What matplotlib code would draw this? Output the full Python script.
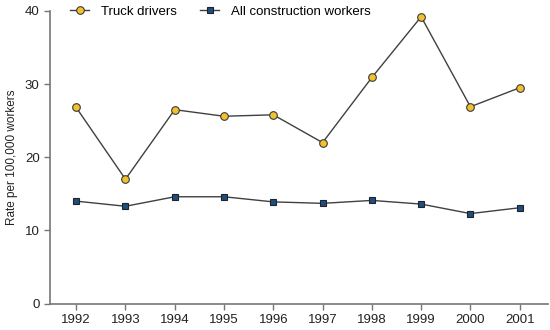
import matplotlib.pyplot as plt

years = [1992, 1993, 1994, 1995, 1996, 1997, 1998, 1999, 2000, 2001]
truck_drivers = [26.8, 17.0, 26.5, 25.6, 25.8, 22.0, 30.9, 39.2, 26.9, 29.5]
construction = [14.0, 13.3, 14.6, 14.6, 13.9, 13.7, 14.1, 13.6, 12.3, 13.1]

plt.rcParams['font.family'] = ['Liberation Sans', 'DejaVu Sans']

fig = plt.figure(figsize=(5.5, 3.3), dpi=100)
ax = fig.add_axes([0.091, 0.08, 0.905, 0.887])

ax.plot(years, truck_drivers, color='#404040', lw=1, marker='o', ms=5.5,
        mfc='#F2C12E', mec='#3a3a3a', mew=0.8, label='Truck drivers')
ax.plot(years, construction, color='#404040', lw=1, marker='s', ms=5,
        mfc='#1B4F82', mec='#222222', mew=0.8, label='All construction workers')

ax.set_xlim(1991.47, 2001.57)
ax.set_ylim(0, 40)
ax.set_xticks(years)
ax.set_yticks([0, 10, 20, 30, 40])
ax.tick_params(labelsize=9.5, color='#777777', length=4, width=1, labelcolor='#222222')
for s in ['top', 'right']:
    ax.spines[s].set_visible(False)
for s in ['left', 'bottom']:
    ax.spines[s].set_color('#777777')
    ax.spines[s].set_linewidth(1.2)

ax.set_ylabel('Rate per 100,000 workers', fontsize=8.5, color='#222222', labelpad=5)

ax.legend(loc='upper left', bbox_to_anchor=(0.017, 1.058), ncol=2, frameon=False,
          fontsize=9.5, handlelength=1.4, columnspacing=1.8, handletextpad=0.9)

fig.savefig('out.png', dpi=100)
